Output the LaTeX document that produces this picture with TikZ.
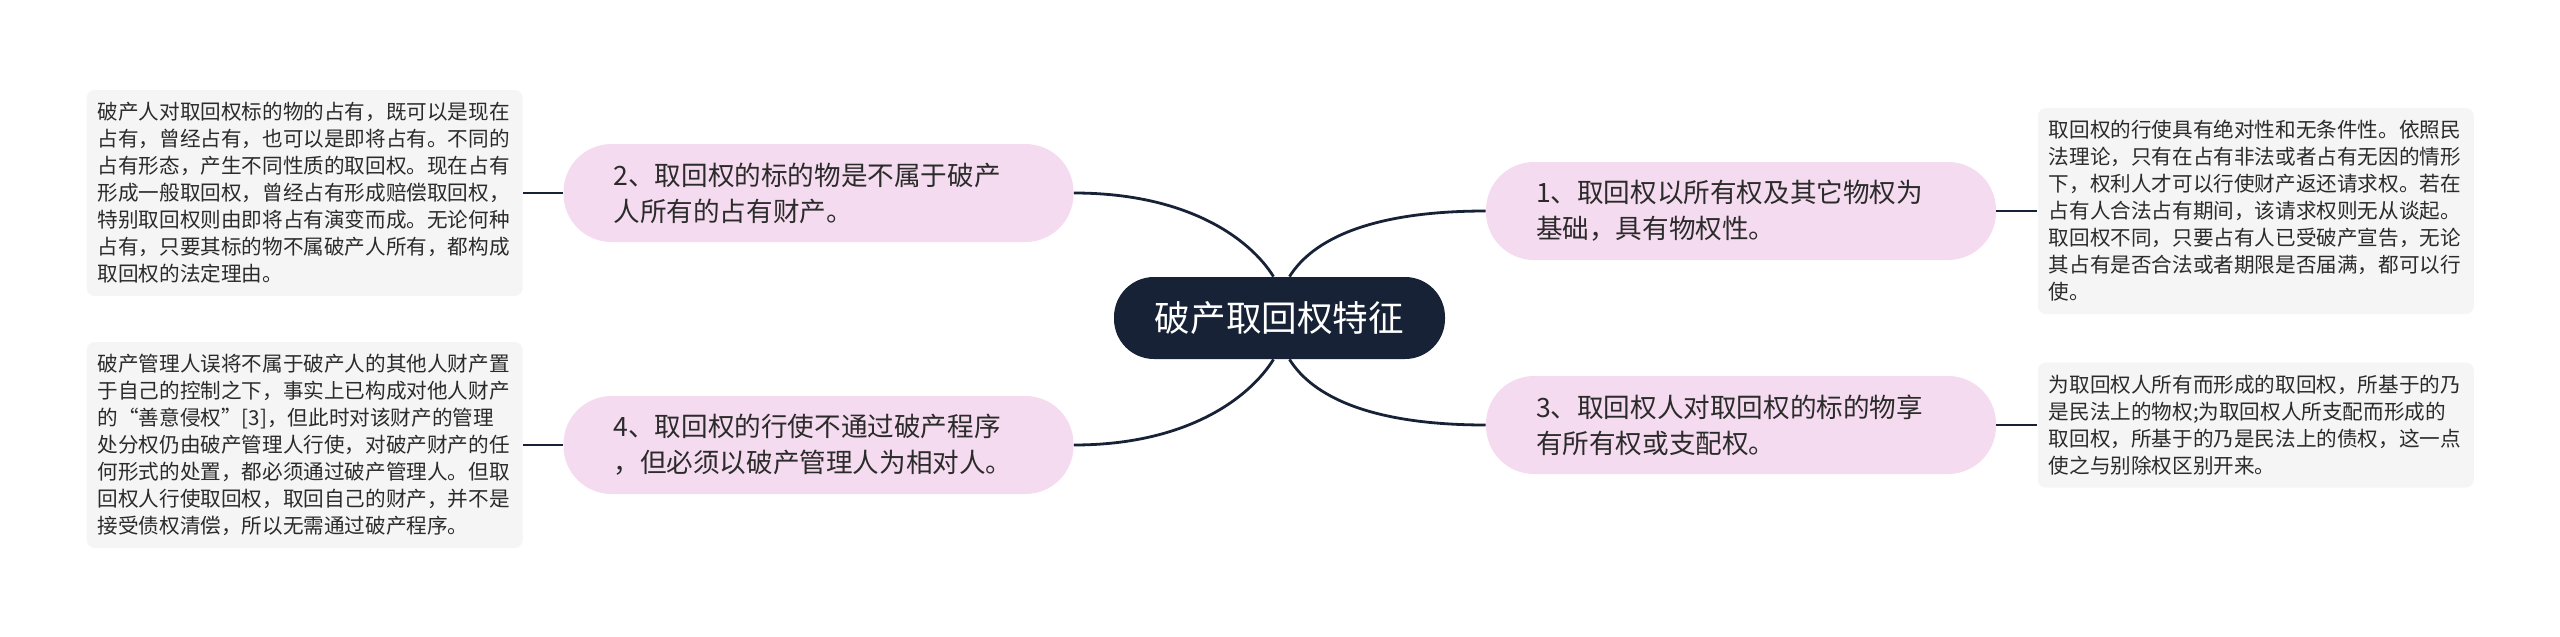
\documentclass[tikz,border=0pt]{standalone}
\usepackage{fontspec}
\setmainfont{Noto Sans CJK SC}
\usepackage{xcolor}
\usepackage{tikz}
\usetikzlibrary{positioning}

\definecolor{rootfill}{HTML}{172236}
\definecolor{pinkfill}{HTML}{F5DBEF}
\definecolor{notefill}{HTML}{F5F5F5}
\definecolor{inkline}{HTML}{172236}
\definecolor{inktext}{HTML}{2B2B2B}

\begin{document}
\begin{tikzpicture}[
    x=0.5pt, y=-0.5pt,
    node distance=20pt,
    root/.style={fill=rootfill, text=white, rounded corners=20pt, minimum width=165.5pt, minimum height=41pt, inner sep=0pt, font=\fontsize{17.8}{22}\selectfont},
    topic/.style={fill=pinkfill, text=inktext, rounded corners=24pt, text width=205pt, align=left, inner xsep=25pt, inner ysep=0pt, minimum height=49pt, font=\fontsize{13.3}{18}\selectfont},
    note/.style={fill=notefill, text=inktext, rounded corners=4pt, text width=207pt, align=left, inner xsep=5.5pt, inner ysep=0pt, font=\fontsize{10.3}{13.5}\selectfont},
    link/.style={draw=inkline, line width=1.4pt}
]
\useasboundingbox (0,0) rectangle (2560,637);

\node[root] (root) at (1279.5,318) {破产取回权特征};

\node[topic] (t1) at (1741,211) {1、取回权以所有权及其它物权为\\基础，具有物权性。};
\node[topic] (t2) at (818.5,193) {2、取回权的标的物是不属于破产\\人所有的占有财产。};
\node[topic] (t3) at (1741,425) {3、取回权人对取回权的标的物享\\有所有权或支配权。};
\node[topic] (t4) at (818.5,445) {4、取回权的行使不通过破产程序\\，但必须以破产管理人为相对人。};

\node[note, minimum height=103pt, right=20.5pt of t1] (d1) {取回权的行使具有绝对性和无条件性。依照民\\法理论，只有在占有非法或者占有无因的情形\\下，权利人才可以行使财产返还请求权。若在\\占有人合法占有期间，该请求权则无从谈起。\\取回权不同，只要占有人已受破产宣告，无论\\其占有是否合法或者期限是否届满，都可以行\\使。};
\node[note, minimum height=103pt, left=20pt of t2] (d2) {破产人对取回权标的物的占有，既可以是现在\\占有，曾经占有，也可以是即将占有。不同的\\占有形态，产生不同性质的取回权。现在占有\\形成一般取回权，曾经占有形成赔偿取回权，\\特别取回权则由即将占有演变而成。无论何种\\占有，只要其标的物不属破产人所有，都构成\\取回权的法定理由。};
\node[note, minimum height=62.5pt, right=20.5pt of t3] (d3) {为取回权人所有而形成的取回权，所基于的乃\\是民法上的物权;为取回权人所支配而形成的\\取回权，所基于的乃是民法上的债权，这一点\\使之与别除权区别开来。};
\node[note, minimum height=103pt, left=20pt of t4] (d4) {破产管理人误将不属于破产人的其他人财产置\\于自己的控制之下，事实上已构成对他人财产\\的“善意侵权”[3]，但此时对该财产的管理\\处分权仍由破产管理人行使，对破产财产的任\\何形式的处置，都必须通过破产管理人。但取\\回权人行使取回权，取回自己的财产，并不是\\接受债权清偿，所以无需通过破产程序。};

% branches
\draw[link] ([xshift=5pt]root.north) .. controls +(23,-37) and +(-115,0) .. (t1.west);
\draw[link] ([xshift=-3pt]root.north) .. controls +(-23,-37) and +(115,0) .. (t2.east);
\draw[link] ([xshift=5pt]root.south) .. controls +(23,37) and +(-115,0) .. (t3.west);
\draw[link] ([xshift=-3pt]root.south) .. controls +(-23,37) and +(115,0) .. (t4.east);

% details
\draw[link] (t1) -- (d1);
\draw[link] (t2) -- (d2);
\draw[link] (t3) -- (d3);
\draw[link] (t4) -- (d4);
\end{tikzpicture}
\end{document}
